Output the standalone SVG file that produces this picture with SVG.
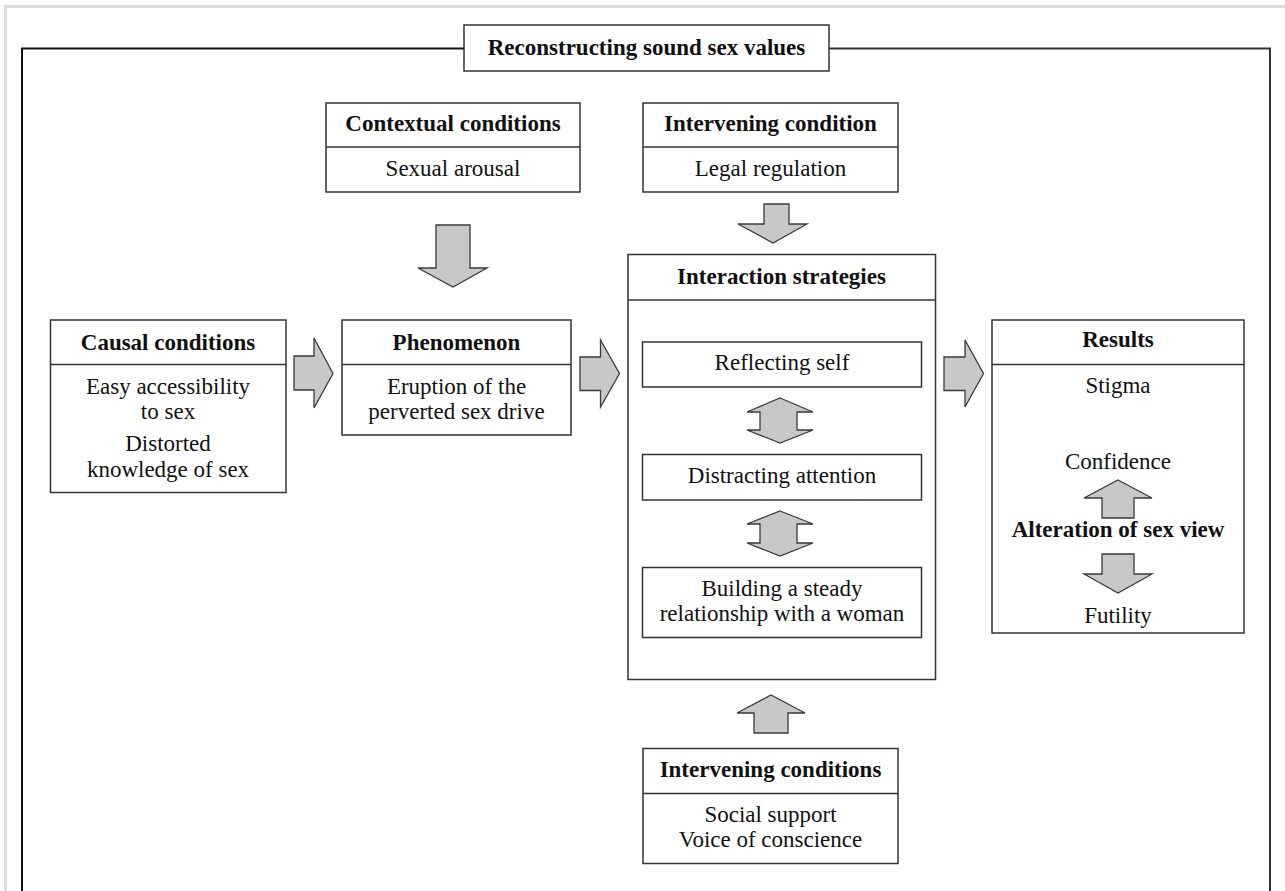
<svg xmlns="http://www.w3.org/2000/svg" width="1285" height="891" viewBox="0 0 1285 891">
<style>
.box{fill:#fff;stroke:#333;stroke-width:1.5}
.div{stroke:#333;stroke-width:1.5;fill:none}
.arr{fill:#c8c8c8;stroke:#3a3a3a;stroke-width:1.3;stroke-linejoin:miter}
.h{font-family:"Liberation Serif","Times New Roman",serif;font-weight:bold;font-size:23px;fill:#111;text-anchor:middle}
.t{font-family:"Liberation Serif","Times New Roman",serif;font-size:23px;fill:#111;text-anchor:middle}
</style>
<rect width="1285" height="891" fill="#fff"/>
<g id="page-border">
<path d="M5.5 891 V6.5 H1285" fill="none" stroke="#dcdcdc" stroke-width="3"/>
</g>
<g id="frame">
<path d="M464 48.5 H22 V891" fill="none" stroke="#111" stroke-width="2"/>
<path d="M829 48.5 H1270 V891" fill="none" stroke="#333" stroke-width="2"/>
</g>
<g id="title">
<rect class="box" x="464" y="25" width="365" height="46"/>
<text class="h" x="646.5" y="55">Reconstructing sound sex values</text>
</g>
<g id="contextual">
<rect class="box" x="326" y="103" width="254" height="89"/>
<line class="div" x1="326" y1="147" x2="580" y2="147"/>
<text class="h" x="453" y="131">Contextual conditions</text>
<text class="t" x="453" y="176">Sexual arousal</text>
</g>
<g id="intervening-top">
<rect class="box" x="643" y="103" width="255" height="89"/>
<line class="div" x1="643" y1="147" x2="898" y2="147"/>
<text class="h" x="770.5" y="131">Intervening condition</text>
<text class="t" x="770.5" y="176">Legal regulation</text>
</g>
<g id="causal">
<rect class="box" x="50.5" y="320" width="235.5" height="172.5"/>
<line class="div" x1="50.5" y1="364.5" x2="286" y2="364.5"/>
<text class="h" x="168" y="350">Causal conditions</text>
<text class="t" x="168" y="394">Easy accessibility</text>
<text class="t" x="168" y="419">to sex</text>
<text class="t" x="168" y="451">Distorted</text>
<text class="t" x="168" y="477">knowledge of sex</text>
</g>
<g id="phenomenon">
<rect class="box" x="342" y="320" width="229" height="115"/>
<line class="div" x1="342" y1="364.5" x2="571" y2="364.5"/>
<text class="h" x="456.5" y="350">Phenomenon</text>
<text class="t" x="456.5" y="394">Eruption of the</text>
<text class="t" x="456.5" y="419">perverted sex drive</text>
</g>
<g id="interaction">
<rect class="box" x="628" y="254.5" width="307.5" height="425" stroke="#444"/>
<line class="div" x1="628" y1="300" x2="935.5" y2="300"/>
<text class="h" x="781.5" y="284">Interaction strategies</text>
</g>
<g id="reflecting">
<rect class="box" x="642.5" y="342" width="279" height="45"/>
<text class="t" x="782" y="370">Reflecting self</text>
</g>
<g id="distracting">
<rect class="box" x="642.5" y="454.5" width="279" height="45.5"/>
<text class="t" x="782" y="483">Distracting attention</text>
</g>
<g id="building">
<rect class="box" x="642.5" y="567.5" width="279" height="70"/>
<text class="t" x="782" y="596">Building a steady</text>
<text class="t" x="782" y="621">relationship with a woman</text>
</g>
<g id="results">
<rect class="box" x="992" y="320" width="252" height="313"/>
<line class="div" x1="992" y1="364.5" x2="1244" y2="364.5"/>
<text class="h" x="1118" y="347">Results</text>
<text class="t" x="1118" y="393">Stigma</text>
<text class="t" x="1118" y="469">Confidence</text>
<text class="h" x="1118" y="537">Alteration of sex view</text>
<text class="t" x="1118" y="623">Futility</text>
<polygon class="arr" points="1118,480 1152,498 1134,498 1134,518 1102,518 1102,498 1084,498"/>
<polygon class="arr" points="1102,554 1134,554 1134,574 1152,574 1118,593 1084,574 1102,574"/>
</g>
<g id="intervening-bottom">
<rect class="box" x="643" y="748.5" width="255" height="115"/>
<line class="div" x1="643" y1="793.5" x2="898" y2="793.5"/>
<text class="h" x="770.5" y="777">Intervening conditions</text>
<text class="t" x="770.5" y="822">Social support</text>
<text class="t" x="770.5" y="847">Voice of conscience</text>
</g>
<g id="connectors">
<polygon class="arr" points="436,225 470,225 470,268 487,268 453,287 418,268 436,268"/>
<polygon class="arr" points="764,204 789,204 789,224 807,224 773,243 738,224 764,224"/>
<polygon class="arr" points="294,356 314,356 314,338 333,373.5 314,408 314,390 294,390"/>
<polygon class="arr" points="580,357 600.5,357 600.5,340 619.5,373.5 600.5,407 600.5,390.5 580,390.5"/>
<polygon class="arr" points="944,357 965,357 965,340 983.5,373.5 965,407 965,390.5 944,390.5"/>
<polygon class="arr" points="780,398 813,412 797,412 797,430 813,430 780,443 747,430 760,430 760,412 747,412"/>
<polygon class="arr" points="780,511 813,524 797,524 797,543 813,543 780,556 747,543 760,543 760,524 747,524"/>
<polygon class="arr" points="771,695 805,713 788,713 788,733 754,733 754,713 737,713"/>
</g>
</svg>
